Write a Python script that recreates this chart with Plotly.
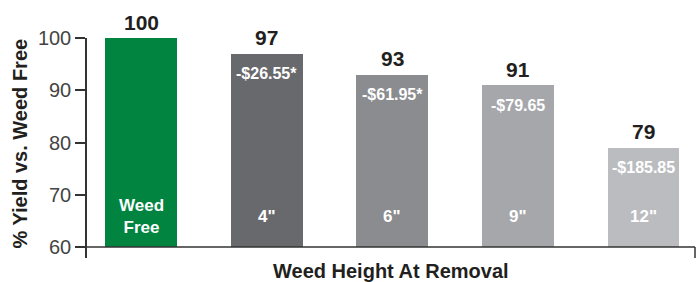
import plotly.graph_objects as go

categories = ["Weed<br>Free", "4\"", "6\"", "9\"", "12\""]
yield_pct = [100, 97, 93, 91, 79]
cost_labels = ["", "-$26.55*", "-$61.95*", "-$79.65", "-$185.85"]
bar_colors = ["#00843F", "#68696D", "#8B8C90", "#A6A7AB", "#BBBCC0"]
y_ticks = [60, 70, 80, 90, 100]

BASE = 60
Y_MIN = 57.9
Y_MAX = 100
FONT = "Liberation Sans, Arial, Helvetica, sans-serif"

xs = list(range(len(categories)))

fig = go.Figure()
fig.add_trace(go.Bar(
    x=xs,
    y=[v - BASE for v in yield_pct],
    base=BASE,
    width=0.573,
    marker=dict(color=bar_colors, line=dict(width=0)),
    hoverinfo="skip",
    showlegend=False,
))

annotations = []
for x, v, c, cat in zip(xs, yield_pct, cost_labels, categories):
    annotations.append(dict(x=x, y=v, xref="x", yref="y", text=f"<b>{v}</b>",
                            showarrow=False, yanchor="middle", yshift=16,
                            font=dict(family=FONT, size=21, color="#231F20")))
    if c:
        annotations.append(dict(x=x, y=v, xref="x", yref="y", text=f"<b>{c}</b>",
                                showarrow=False, yanchor="middle", yshift=-20,
                                font=dict(family=FONT, size=16, color="white")))
    annotations.append(dict(x=x, y=BASE, xref="x", yref="y", text=f"<b>{cat}</b>",
                            showarrow=False, yanchor="middle", yshift=31,
                            font=dict(family=FONT, size=17, color="white")))

annotations.append(dict(x=0.5, y=0, xref="paper", yref="paper",
                        text="<b>Weed Height At Removal</b>", showarrow=False,
                        yanchor="middle", yshift=-13,
                        font=dict(family=FONT, size=20, color="#231F20")))
annotations.append(dict(x=0, y=0.52, xref="paper", yref="paper",
                        text="<b>% Yield vs. Weed Free</b>", showarrow=False,
                        textangle=-90, xanchor="center", yanchor="middle", xshift=-67,
                        font=dict(family=FONT, size=20, color="#231F20")))

shapes = [
    dict(type="line", xref="paper", yref="y", x0=0, x1=1, y0=BASE, y1=BASE,
         line=dict(color="#333333", width=1.5)),
    dict(type="line", xref="paper", yref="y", x0=1, x1=1, y0=Y_MIN, y1=BASE,
         line=dict(color="#333333", width=1.5)),
]

fig.update_layout(
    width=697, height=282,
    margin=dict(l=87, r=2, t=38, b=24),
    paper_bgcolor="white", plot_bgcolor="white",
    bargap=0,
    annotations=annotations,
    shapes=shapes,
    xaxis=dict(range=[-0.43, 4.41], showticklabels=False, showgrid=False,
               zeroline=False, showline=False, ticks=""),
    yaxis=dict(range=[Y_MIN, Y_MAX], tickvals=y_ticks, showgrid=False, zeroline=False,
               showline=True, linecolor="#333333", linewidth=1.5,
               ticks="outside", ticklen=10, tickcolor="#333333", tickwidth=1.5,
               tickfont=dict(family=FONT, size=20, color="#444444")),
)

fig.write_html("out.html", config={"displayModeBar": False},
               post_script="document.body.style.margin='0';")
